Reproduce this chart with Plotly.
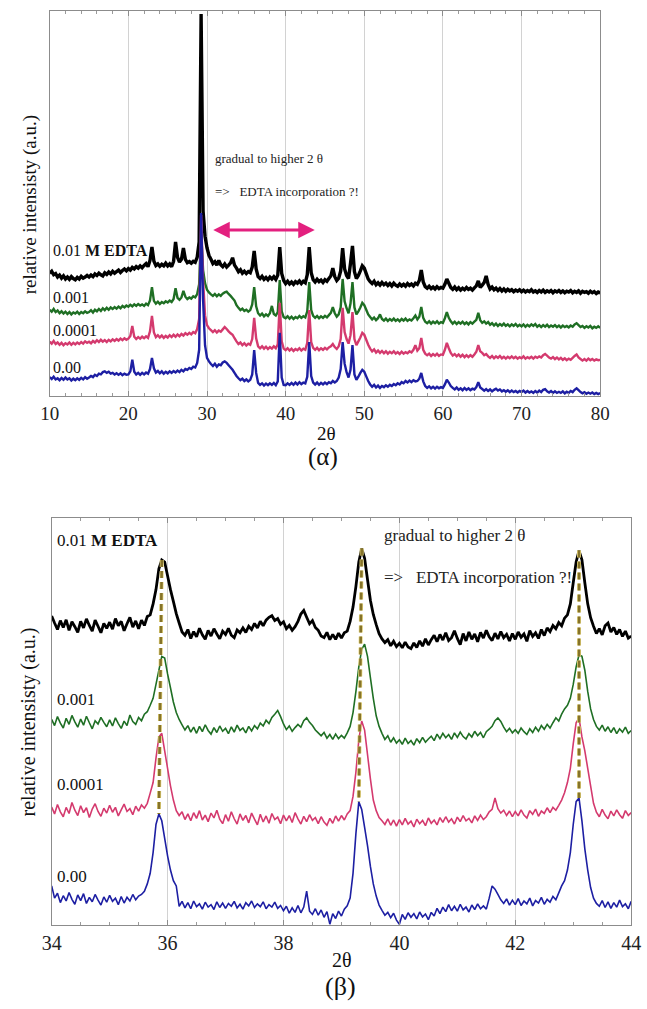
import numpy as np
import plotly.graph_objects as go

# ---------------------------------------------------------------------------
# (α) full XRD scans, 2θ = 10–80°, step 0.25°; stacked relative intensity (a.u.)
# ---------------------------------------------------------------------------
SCAN_A_START, SCAN_A_STEP = 10.0, 0.25

I_A_EDTA_001 = [
    31.9, 32.4, 31.5, 31.8, 30.9, 31.4, 30.6, 31.2, 30.4, 30.9, 30.3, 31.0, 30.5, 30.2, 30.8, 30.4, 31.1, 30.6, 30.9, 31.3,
    30.9, 31.4, 31.0, 31.7, 31.3, 31.9, 31.5, 31.2, 32.0, 31.6, 32.2, 31.7, 32.4, 31.9, 32.3, 32.7, 32.1, 32.6, 33.0, 32.5,
    33.1, 32.7, 33.4, 33.0, 33.6, 33.2, 33.8, 33.3, 33.9, 34.4, 33.6, 35.2, 38.7, 35.0, 33.9, 34.3, 33.7, 34.2, 33.8, 34.5,
    33.8, 34.3, 33.6, 35.0, 40.0, 36.0, 34.8, 35.5, 38.4, 35.5, 34.6, 34.9, 34.5, 35.0, 34.7, 36.0, 40.0, 99.2, 48.0, 41.5,
    38.5, 36.5, 35.5, 34.4, 34.9, 34.0, 35.2, 34.1, 33.6, 34.3, 33.5, 34.0, 34.6, 35.9, 34.0, 33.2, 32.3, 32.8, 31.9, 32.4,
    31.8, 32.3, 32.0, 33.5, 37.7, 33.0, 31.0, 30.5, 31.1, 30.3, 30.8, 30.2, 30.9, 30.4, 31.0, 30.3, 31.4, 38.7, 31.8, 30.0,
    29.2, 29.8, 29.1, 29.6, 29.0, 29.7, 29.3, 29.9, 29.2, 29.8, 29.4, 31.5, 38.7, 32.0, 30.2, 29.6, 30.3, 29.7, 30.1, 29.5,
    30.2, 29.8, 30.5, 31.2, 33.2, 31.0, 30.0, 30.6, 32.5, 38.4, 33.0, 31.3, 30.5, 34.5, 39.0, 32.3, 30.5, 31.3, 32.5, 33.8,
    33.2, 31.8, 30.4, 29.7, 29.2, 29.8, 28.9, 29.4, 28.8, 29.5, 28.9, 29.3, 28.7, 29.2, 28.6, 29.3, 28.8, 28.5, 29.1, 28.6,
    29.0, 28.5, 29.2, 28.7, 29.1, 28.6, 29.3, 29.0, 30.0, 32.7, 29.6, 28.4, 28.0, 28.5, 27.9, 28.3, 27.8, 28.4, 27.9, 28.2,
    28.0, 29.0, 30.4, 29.3, 28.2, 27.7, 28.3, 27.6, 28.1, 27.5, 28.0, 27.6, 28.2, 27.7, 28.0, 27.5, 28.1, 28.6, 29.9, 28.2,
    28.8, 29.5, 31.2, 29.0, 27.8, 28.3, 27.6, 28.0, 27.4, 27.9, 27.3, 27.8, 27.2, 27.7, 27.3, 27.6, 27.1, 27.5, 27.2, 27.6,
    27.1, 27.5, 27.0, 27.4, 27.1, 27.6, 27.0, 27.3, 26.9, 27.4, 27.0, 27.5, 26.9, 27.3, 27.0, 27.4, 26.8, 27.3, 27.0, 27.4,
    26.9, 27.3, 26.8, 27.2, 27.0, 27.4, 26.8, 27.2, 26.9, 27.3, 26.7, 27.2, 26.9, 27.1, 26.7, 27.2, 26.8, 27.1, 26.6, 27.0,
    26.8,
]
I_A_EDTA_0001 = [
    22.4, 21.9, 22.6, 21.8, 22.2, 21.5, 22.0, 21.4, 21.9, 21.3, 21.8, 21.2, 21.7, 21.4, 21.9, 21.3, 21.8, 21.5, 22.0, 21.6,
    21.8, 22.3, 21.7, 22.4, 22.0, 22.6, 22.1, 22.8, 22.3, 22.9, 22.4, 23.0, 22.6, 23.1, 22.7, 23.2, 22.8, 23.4, 23.0, 23.5,
    23.2, 23.7, 23.3, 23.8, 23.4, 23.9, 23.5, 23.8, 23.4, 24.0, 23.6, 24.8, 28.3, 24.7, 24.0, 24.5, 23.9, 24.4, 24.1, 24.6,
    24.3, 24.8, 24.4, 25.2, 28.0, 25.5, 25.0, 25.6, 27.3, 25.8, 25.2, 25.6, 25.3, 25.9, 25.6, 26.5, 29.0, 43.0, 32.7, 29.3,
    27.6, 26.9, 26.4, 26.0, 26.5, 25.9, 26.4, 26.0, 26.6, 26.9, 27.1, 26.5, 26.0, 25.4, 24.8, 23.6, 22.9, 22.3, 22.7, 22.1,
    22.4, 21.9, 22.3, 23.8, 28.3, 23.3, 21.5, 20.9, 21.4, 20.7, 21.2, 20.8, 21.5, 23.4, 21.3, 20.9, 21.8, 30.1, 22.0, 20.5,
    20.2, 20.7, 20.1, 20.6, 20.0, 20.5, 20.2, 20.8, 20.3, 20.7, 20.4, 22.0, 29.6, 22.3, 20.8, 20.3, 20.8, 20.2, 20.7, 20.3,
    20.8, 20.4, 21.0, 21.6, 23.1, 21.5, 20.6, 21.2, 23.0, 30.4, 24.6, 22.8, 21.5, 24.0, 29.6, 23.0, 21.2, 22.0, 23.0, 24.2,
    23.6, 22.4, 21.2, 20.5, 19.9, 20.4, 19.7, 20.2, 21.2, 20.0, 19.6, 20.1, 19.5, 20.0, 19.6, 20.1, 19.5, 19.9, 19.4, 20.0,
    19.6, 20.1, 19.5, 19.9, 19.6, 20.2, 20.9, 19.9, 20.6, 23.1, 20.3, 19.3, 18.9, 19.4, 18.8, 19.3, 18.9, 19.4, 18.8, 19.2,
    19.0, 20.2, 21.8, 20.3, 19.4, 18.8, 19.3, 18.7, 19.2, 18.8, 19.3, 18.7, 19.1, 18.6, 19.2, 18.8, 19.3, 19.8, 21.6, 19.7,
    19.0, 19.4, 18.8, 19.2, 18.5, 18.9, 18.3, 18.8, 18.2, 18.7, 18.3, 18.8, 18.2, 18.6, 18.1, 18.6, 18.2, 18.7, 18.1, 18.5,
    18.1, 18.6, 18.0, 18.5, 18.1, 18.6, 18.2, 18.7, 18.0, 18.4, 17.9, 18.4, 18.0, 18.5, 17.9, 18.3, 18.0, 18.4, 17.9, 18.3,
    17.8, 18.3, 17.9, 18.2, 17.8, 18.3, 18.0, 18.6, 18.9, 18.4, 17.9, 18.2, 17.7, 18.1, 17.8, 18.2, 17.6, 18.0, 17.7, 18.1,
    17.7,
]
I_A_EDTA_00001 = [
    14.1, 13.6, 14.3, 13.5, 13.9, 13.3, 13.8, 13.2, 13.7, 13.4, 13.9, 13.3, 13.8, 13.4, 13.9, 13.5, 14.0, 13.6, 14.2, 13.8,
    14.1, 13.7, 14.3, 13.9, 14.5, 14.0, 14.6, 14.1, 14.5, 14.0, 14.6, 14.2, 14.7, 14.3, 14.8, 14.4, 14.9, 14.5, 15.0, 14.6,
    14.9, 15.6, 18.2, 15.4, 14.8, 15.3, 14.9, 15.4, 15.0, 15.5, 15.1, 16.8, 20.8, 16.5, 15.3, 15.8, 15.2, 15.7, 15.1, 15.6,
    15.2, 15.8, 15.3, 15.9, 15.4, 16.0, 15.5, 16.1, 15.7, 16.3, 15.9, 16.4, 16.0, 16.6, 16.3, 17.4, 20.0, 47.0, 30.1, 21.0,
    18.4, 17.6, 17.1, 16.6, 17.1, 16.5, 17.0, 16.7, 17.3, 17.9, 17.4, 16.8, 16.3, 15.9, 15.0, 14.2, 13.5, 13.9, 13.2, 13.7,
    13.1, 13.6, 13.3, 14.8, 20.3, 15.0, 12.9, 12.4, 12.9, 12.3, 12.8, 12.2, 12.7, 12.3, 12.9, 12.4, 13.4, 24.2, 14.2, 12.3,
    11.9, 12.4, 11.8, 12.3, 11.7, 12.2, 11.9, 12.4, 11.8, 12.3, 12.0, 13.8, 22.3, 14.0, 12.5, 12.0, 12.5, 11.9, 12.4, 12.0,
    12.5, 12.1, 12.6, 12.9, 13.5, 12.7, 12.2, 12.9, 14.8, 22.9, 16.6, 14.8, 13.6, 15.8, 21.8, 14.8, 13.2, 14.2, 15.2, 16.4,
    15.9, 14.6, 13.3, 12.3, 11.6, 12.1, 11.3, 11.8, 11.2, 11.7, 11.1, 11.6, 11.0, 11.5, 11.1, 11.6, 11.0, 11.4, 10.9, 11.5,
    11.0, 11.4, 11.1, 11.6, 11.3, 12.0, 13.2, 11.8, 12.4, 15.1, 12.0, 11.0, 10.6, 11.0, 10.4, 10.9, 10.5, 11.0, 10.4, 10.8,
    10.7, 12.0, 13.8, 12.4, 11.2, 10.5, 10.9, 10.3, 10.8, 10.2, 10.7, 10.1, 10.6, 10.1, 10.6, 10.2, 10.8, 11.5, 13.2, 11.6,
    11.2, 10.6, 10.9, 10.3, 9.9, 10.4, 9.8, 10.3, 9.9, 10.4, 9.8, 10.2, 9.7, 10.2, 9.8, 10.3, 9.8, 10.2, 9.7, 10.1,
    9.8, 10.3, 9.7, 10.1, 9.8, 10.2, 9.7, 10.2, 9.9, 10.3, 10.0, 10.6, 10.9, 10.5, 10.0, 9.7, 10.1, 9.6, 10.0, 9.5,
    9.9, 9.4, 9.8, 9.3, 9.7, 9.4, 9.9, 10.4, 10.8, 10.0, 9.6, 9.2, 9.6, 9.2, 9.7, 9.3, 9.6, 9.2, 9.5, 9.3,
    9.4,
]
I_A_EDTA_000 = [
    4.9, 4.4, 5.0, 4.3, 4.6, 4.1, 4.7, 4.2, 4.8, 4.3, 4.6, 4.0, 4.5, 4.1, 4.6, 4.2, 4.7, 4.3, 4.9, 4.5,
    4.8, 5.2, 4.9, 5.5, 5.2, 5.8, 5.6, 6.2, 6.4, 6.0, 6.3, 5.8, 6.0, 5.6, 5.9, 5.5, 5.9, 5.4, 5.8, 5.5,
    5.6, 6.4, 9.4, 6.3, 5.6, 6.0, 5.5, 6.0, 5.6, 6.1, 5.8, 7.0, 9.9, 7.2, 6.1, 6.5, 5.9, 6.4, 5.8, 6.3,
    5.9, 6.4, 6.0, 6.5, 6.1, 6.6, 6.2, 6.8, 6.4, 7.0, 6.8, 7.3, 7.0, 7.6, 7.4, 8.6, 12.0, 47.5, 25.0, 13.2,
    9.9, 9.0, 8.3, 7.8, 8.4, 7.6, 8.2, 8.0, 8.7, 9.0, 8.6, 8.0, 7.4, 6.8, 6.0, 5.2, 4.6, 4.1, 4.5, 3.9,
    4.3, 3.8, 4.2, 5.6, 11.9, 6.0, 3.4, 2.9, 3.3, 2.7, 3.2, 2.8, 3.3, 2.9, 3.4, 2.8, 3.8, 16.4, 4.8, 2.9,
    2.8, 3.3, 2.9, 3.4, 2.9, 3.5, 3.0, 3.6, 3.1, 3.5, 3.3, 5.0, 14.0, 5.2, 3.5, 3.0, 3.5, 2.9, 3.4, 3.0,
    3.5, 3.1, 3.6, 3.3, 3.9, 3.5, 3.9, 4.8, 7.0, 14.0, 8.4, 6.2, 4.8, 6.8, 13.2, 5.6, 4.2, 5.0, 6.0, 6.8,
    6.3, 5.1, 3.9, 3.0, 2.4, 2.9, 2.2, 2.7, 2.1, 2.6, 2.3, 2.8, 2.4, 2.9, 2.6, 3.1, 2.8, 3.3, 3.0, 3.6,
    3.3, 3.9, 3.5, 4.0, 3.6, 4.1, 3.8, 3.9, 4.5, 6.0, 3.8, 2.6, 2.1, 2.5, 2.0, 2.4, 1.9, 2.4, 2.0, 2.3,
    2.1, 3.0, 4.2, 3.5, 2.6, 2.1, 1.7, 2.2, 1.6, 2.0, 1.5, 2.1, 1.6, 2.0, 1.5, 1.9, 1.7, 2.3, 3.6, 2.2,
    1.8, 1.4, 1.8, 1.3, 1.7, 1.2, 1.6, 1.9, 1.4, 1.7, 1.2, 1.5, 1.1, 1.5, 1.0, 1.4, 1.0, 1.3, 0.9, 1.3,
    1.0, 1.4, 0.9, 1.3, 0.9, 1.2, 0.8, 1.3, 0.9, 1.4, 1.0, 1.6, 1.8, 1.2, 0.9, 1.3, 0.8, 1.2, 0.8, 1.1,
    0.8, 1.2, 0.7, 1.1, 0.8, 1.3, 1.0, 1.6, 2.0, 1.5, 1.0, 0.7, 1.0, 0.6, 0.9, 0.6, 0.9, 0.5, 0.8, 0.5,
    0.8,
]

# ---------------------------------------------------------------------------
# (β) detail scans, 2θ = 34–44°, step 0.05°; stacked relative intensity (a.u.)
# ---------------------------------------------------------------------------
SCAN_B_START, SCAN_B_STEP = 34.0, 0.05

I_B_EDTA_001 = [
    75.9, 74.2, 72.6, 74.8, 73.1, 75.0, 72.4, 74.5, 73.3, 71.9, 74.6, 73.0, 75.2, 73.6, 72.2, 74.9, 73.4, 71.8, 74.1, 72.9,
    74.4, 72.7, 75.3, 73.5, 74.6, 72.3, 74.0, 75.6, 73.2, 74.7, 72.8, 74.9, 73.6, 75.8, 76.2, 78.9, 82.4, 87.5, 89.7, 89.2,
    85.8, 82.4, 79.5, 76.5, 74.2, 72.0, 71.2, 72.6, 70.4, 72.1, 70.8, 72.9, 71.3, 70.2, 72.4, 71.0, 72.8, 71.5, 70.3, 72.2,
    71.4, 72.9, 71.2, 70.6, 72.5, 71.8, 73.0, 71.9, 73.4, 72.6, 74.1, 73.0, 74.6, 73.5, 74.9, 75.6, 76.0, 74.8, 75.3, 73.9,
    74.5, 72.8, 73.6, 72.4, 73.3, 74.6, 76.4, 77.3, 75.6, 74.0, 74.8, 73.1, 72.4, 71.0, 70.6, 71.9, 70.1, 71.4, 70.2, 71.7,
    70.5, 71.8, 72.2, 74.6, 78.1, 83.2, 89.2, 92.5, 90.1, 84.9, 79.8, 76.3, 73.8, 71.6, 70.3, 69.4, 70.1, 68.6, 69.7, 68.4,
    69.2, 68.1, 69.5, 68.3, 67.9, 69.3, 68.2, 69.8, 68.5, 70.3, 68.8, 70.1, 71.2, 69.6, 71.4, 70.0, 71.8, 69.9, 70.6, 72.3,
    70.4, 68.9, 71.6, 69.8, 72.0, 70.2, 71.5, 69.6, 71.9, 70.5, 72.4, 70.8, 69.9, 71.7, 70.3, 72.1, 70.6, 71.4, 69.8, 71.6,
    70.2, 72.0, 70.7, 71.5, 69.7, 72.3, 70.9, 71.8, 70.4, 72.6, 71.1, 73.0, 72.1, 73.6, 72.8, 74.3, 73.5, 75.4, 76.2, 78.9,
    84.1, 89.2, 92.0, 89.7, 84.1, 78.9, 75.5, 73.4, 71.6, 72.8, 71.3, 73.5, 74.2, 72.0, 73.1, 71.4, 72.6, 70.9, 72.2, 70.5,
    71.0,
]
I_B_EDTA_0001 = [
    50.5, 49.0, 51.2, 49.6, 48.4, 50.8, 49.3, 51.5, 49.9, 48.6, 50.6, 49.1, 51.3, 49.7, 48.2, 50.2, 49.4, 51.0, 49.8, 48.7,
    50.4, 48.9, 50.9, 49.5, 48.3, 50.1, 49.0, 51.6, 50.0, 49.3, 51.0, 50.2, 51.8, 52.4, 54.0, 55.7, 59.1, 62.6, 66.0, 65.6,
    61.7, 58.3, 54.8, 52.2, 50.5, 49.2, 47.9, 49.0, 47.4, 48.6, 47.1, 48.8, 47.5, 49.2, 47.8, 46.9, 48.5, 47.3, 48.9, 47.6,
    48.3, 47.0, 48.7, 47.4, 49.1, 47.8, 48.4, 47.2, 48.8, 47.7, 49.0, 48.2, 49.6, 48.9, 50.3, 49.5, 51.0, 51.8, 52.7, 51.2,
    49.4, 48.0, 48.9, 47.6, 48.5, 49.3, 48.6, 50.2, 50.9, 49.8, 49.0, 47.9, 47.2, 46.5, 47.3, 45.9, 46.8, 45.6, 46.9, 45.8,
    46.6, 45.9, 47.2, 48.8, 52.2, 57.4, 63.4, 67.7, 69.0, 66.0, 60.8, 55.7, 51.4, 48.8, 47.1, 45.6, 46.5, 44.9, 46.0, 44.7,
    45.5, 44.4, 45.9, 44.6, 45.3, 44.2, 45.8, 44.8, 46.1, 44.9, 45.7, 46.4, 45.3, 46.9, 45.8, 47.1, 46.0, 46.8, 45.6, 47.2,
    46.1, 47.4, 46.3, 45.7, 47.0, 46.2, 47.6, 46.5, 47.3, 46.0, 47.5, 48.1, 48.8, 50.2, 50.9, 50.0, 48.6, 47.5, 48.3, 47.2,
    48.0, 47.1, 48.4, 47.5, 46.8, 48.2, 47.3, 48.6, 47.6, 49.0, 48.1, 49.3, 48.4, 49.7, 50.9, 50.1, 51.8, 53.1, 54.0, 55.7,
    59.1, 63.4, 66.4, 66.0, 62.6, 57.4, 53.1, 50.5, 48.8, 47.9, 49.1, 47.6, 48.7, 47.3, 48.5, 47.0, 48.2, 47.4, 48.6, 47.1,
    47.8,
]
I_B_EDTA_00001 = [
    29.0, 27.3, 29.6, 27.8, 26.6, 28.9, 27.4, 30.1, 28.2, 26.9, 29.3, 27.6, 28.8, 26.4, 28.5, 29.8, 27.9, 26.7, 28.7, 27.5,
    29.4, 27.7, 28.9, 26.8, 28.3, 29.7, 27.9, 28.6, 27.1, 29.2, 28.0, 29.5, 28.7, 29.9, 32.4, 35.0, 41.0, 46.2, 47.1, 42.8,
    38.5, 34.2, 30.7, 28.1, 26.9, 27.8, 25.9, 27.3, 25.6, 27.6, 26.2, 28.1, 25.8, 27.0, 25.4, 27.5, 26.3, 28.2, 26.0, 24.9,
    27.1, 25.5, 27.8, 26.1, 24.8, 27.3, 25.7, 26.9, 25.1, 27.5, 26.0, 24.6, 27.2, 25.3, 26.8, 25.0, 27.4, 25.9, 26.5, 24.9,
    27.0, 25.6, 26.9, 25.2, 27.6, 26.1, 24.8, 26.7, 25.4, 27.1, 25.7, 26.4, 24.9, 26.6, 25.3, 24.5, 26.2, 25.0, 26.8, 25.5,
    26.9, 25.8, 27.3, 28.1, 31.6, 37.6, 45.4, 50.1, 47.9, 41.9, 35.9, 30.7, 28.1, 26.4, 25.6, 24.7, 26.1, 24.5, 25.8, 24.3,
    25.9, 24.6, 26.2, 24.8, 25.5, 24.1, 26.0, 24.9, 25.7, 24.4, 26.3, 25.0, 25.8, 24.6, 26.4, 25.2, 26.6, 25.3, 26.1, 24.8,
    26.5, 25.4, 26.9, 25.6, 26.2, 25.1, 26.8, 25.7, 27.0, 25.9, 26.6, 27.8, 28.4, 31.2, 28.6, 27.5, 28.2, 26.9, 28.0, 26.6,
    27.9, 26.8, 28.3, 27.0, 26.3, 28.1, 27.2, 28.5, 26.7, 28.0, 27.4, 28.8, 27.6, 28.9, 28.2, 29.4, 30.7, 32.5, 35.0, 38.5,
    44.5, 49.7, 50.9, 46.2, 42.8, 38.5, 34.2, 29.9, 27.7, 26.6, 28.4, 27.0, 26.1, 28.0, 26.8, 28.3, 27.1, 26.2, 28.1, 26.9,
    27.6,
]
I_B_EDTA_000 = [
    9.6, 6.6, 7.8, 5.5, 7.2, 5.9, 8.0, 6.3, 5.1, 7.4, 6.0, 7.7, 5.3, 6.8, 5.7, 7.5, 6.1, 4.9, 6.9, 5.6,
    7.3, 5.8, 6.6, 5.0, 7.0, 5.4, 6.8, 5.9, 7.5, 6.2, 7.1, 7.5, 8.3, 10.1, 12.7, 17.8, 24.7, 27.3, 25.6, 21.3,
    17.0, 13.5, 10.9, 9.6, 4.6, 5.8, 4.2, 5.5, 4.0, 5.9, 4.5, 5.2, 3.9, 5.6, 4.4, 5.0, 3.8, 5.7, 4.3, 5.4,
    4.1, 5.3, 4.6, 5.8, 4.2, 5.1, 3.9, 5.5, 4.7, 5.9, 4.3, 5.2, 4.5, 5.7, 4.0, 5.0, 4.4, 5.6, 4.1, 4.8,
    3.5, 4.6, 2.9, 4.2, 3.1, 4.8, 3.0, 4.4, 8.3, 3.4, 2.6, 4.0, 2.4, 3.7, 1.9, 3.3, 0.2, 2.8, 1.6, 3.4,
    2.2, 3.9, 4.7, 6.6, 12.7, 22.5, 30.3, 28.4, 24.0, 19.5, 14.4, 10.1, 7.1, 4.9, 3.6, 2.4, 3.1, 1.8, 2.9, 1.2,
    0.2, 2.6, 1.4, 3.0, 1.9, 2.8, 1.5, 3.2, 2.0, 2.7, 1.3, 3.1, 2.2, 4.1, 2.8, 4.4, 3.3, 5.0, 3.5, 4.6,
    3.4, 5.1, 3.7, 4.4, 3.2, 4.9, 3.8, 5.2, 4.0, 4.7, 3.9, 6.6, 9.6, 8.8, 7.5, 6.2, 5.3, 6.4, 4.9, 6.1,
    5.0, 6.5, 4.8, 5.9, 5.2, 6.6, 4.7, 6.0, 5.4, 6.8, 5.1, 6.3, 5.6, 7.0, 6.2, 7.9, 9.6, 10.9, 13.5, 17.8,
    24.7, 30.3, 31.2, 25.6, 18.7, 13.5, 9.2, 6.6, 5.3, 4.6, 6.0, 4.3, 5.7, 4.1, 5.5, 4.4, 6.1, 4.5, 5.2, 4.0,
    5.8,
]

SERIES_NAMES = ["0.01 <b>M EDTA</b>", "0.001", "0.0001", "0.00"]
SERIES_COLORS = ["#000000", "#1f6f24", "#d43a6e", "#1d1fa3"]
SCANS_A = [I_A_EDTA_001, I_A_EDTA_0001, I_A_EDTA_00001, I_A_EDTA_000]
SCANS_B = [I_B_EDTA_001, I_B_EDTA_0001, I_B_EDTA_00001, I_B_EDTA_000]

# reflections followed across the series in (β)
REFLECTION_WINDOWS = [(35.5, 36.3), (39.0, 39.8), (42.8, 43.5)]

# ---------------------------------------------------------------------------
W, H = 647, 1009
SERIF = "Liberation Serif, Times New Roman, serif"


def px(x, y):
    """pixel position -> paper coordinates"""
    return x / W, 1 - y / H


fig = go.Figure()

# draw the 0.01 M scan first so the others sit on top of it
for k, (ya, yb) in enumerate(zip(SCANS_A, SCANS_B)):
    xa = SCAN_A_START + SCAN_A_STEP * np.arange(len(ya))
    xb = SCAN_B_START + SCAN_B_STEP * np.arange(len(yb))
    wa = 3.4 if k == 0 else 2.4
    wb = 2.8 if k == 0 else 1.6
    fig.add_trace(go.Scatter(x=xa, y=ya, mode="lines", xaxis="x", yaxis="y",
                             line=dict(color=SERIES_COLORS[k], width=wa, simplify=False),
                             hoverinfo="skip"))
    fig.add_trace(go.Scatter(x=xb, y=yb, mode="lines", xaxis="x2", yaxis="y2",
                             line=dict(color=SERIES_COLORS[k], width=wb, simplify=False),
                             hoverinfo="skip"))

# dashed guides joining the peak maxima of the 0.01 M and 0.00 scans
xb_top = SCAN_B_START + SCAN_B_STEP * np.arange(len(I_B_EDTA_001))
xb_bot = SCAN_B_START + SCAN_B_STEP * np.arange(len(I_B_EDTA_000))
yb_top = np.array(I_B_EDTA_001)
yb_bot = np.array(I_B_EDTA_000)
for lo, hi in REFLECTION_WINDOWS:
    it = int(np.argmax(np.where((xb_top >= lo) & (xb_top <= hi), yb_top, -np.inf)))
    ib = int(np.argmax(np.where((xb_bot >= lo) & (xb_bot <= hi), yb_bot, -np.inf)))
    gx, gy = [xb_top[it], xb_bot[ib]], [yb_top[it], yb_bot[ib]]
    fig.add_trace(go.Scatter(x=gx, y=gy, mode="lines", xaxis="x2", yaxis="y2",
                             line=dict(color="#e6d57a", width=4, dash="7px,4px"),
                             hoverinfo="skip"))
    fig.add_trace(go.Scatter(x=gx, y=gy, mode="lines", xaxis="x2", yaxis="y2",
                             line=dict(color="#85732a", width=2.6, dash="7px,4px"),
                             hoverinfo="skip"))

frame = dict(showline=True, linecolor="#8c8c8c", linewidth=1, mirror="ticks",
             zeroline=False)
tickfont = dict(family=SERIF, size=19, color="#222222")

fig.update_layout(
    width=W, height=H, margin=dict(l=0, r=0, t=0, b=0),
    paper_bgcolor="white", plot_bgcolor="white", showlegend=False,
    xaxis=dict(domain=[41 / W, 609 / W], anchor="y", range=[10, 80],
               tick0=10, dtick=10, ticks="inside", ticklen=5, tickcolor="#8c8c8c",
               minor=dict(dtick=2, ticks="inside", ticklen=3, tickcolor="#9a9a9a"),
               showgrid=True, gridcolor="#d2d2d2", gridwidth=1,
               tickfont=tickfont, **frame),
    yaxis=dict(domain=[1 - 396 / H, 1 - 11 / H], anchor="x", range=[0, 100],
               showticklabels=False, ticks="", showgrid=False, **frame),
    xaxis2=dict(domain=[43 / W, 641 / W], anchor="y2", range=[34, 44],
                tick0=34, dtick=2, ticks="inside", ticklen=5, tickcolor="#8c8c8c",
                minor=dict(dtick=0.5, ticks="inside", ticklen=3, tickcolor="#9a9a9a"),
                showgrid=True, gridcolor="#d2d2d2", gridwidth=1,
                tickfont=dict(family=SERIF, size=20, color="#222222"), **frame),
    yaxis2=dict(domain=[1 - 925 / H, 1 - 518 / H], anchor="x2", range=[0, 100],
                showticklabels=False, ticks="", showgrid=False, **frame),
)

ann = []
# series labels
for name, ly in zip(SERIES_NAMES, [37.7, 25.5, 16.9, 7.5]):
    ann.append(dict(x=10.1, y=ly, xref="x", yref="y", text=name, showarrow=False,
                    xanchor="left", yanchor="middle",
                    font=dict(family=SERIF, size=16, color="#111111")))
for name, ly in zip(SERIES_NAMES, [94.4, 55.3, 34.6, 12.0]):
    ann.append(dict(x=34.05, y=ly, xref="x2", yref="y2", text=name, showarrow=False,
                    xanchor="left", yanchor="middle",
                    font=dict(family=SERIF, size=17, color="#111111")))

# notes
NOTE_1 = "gradual to higher 2 θ"
NOTE_2 = "=>\u00a0\u00a0\u00a0EDTA incorporation ?!"
ann += [
    dict(x=30.8, y=61.6, xref="x", yref="y", text=NOTE_1, showarrow=False,
         xanchor="left", yanchor="middle", font=dict(family=SERIF, size=13, color="#222")),
    dict(x=30.8, y=53.0, xref="x", yref="y", text=NOTE_2, showarrow=False,
         xanchor="left", yanchor="middle", font=dict(family=SERIF, size=13, color="#222")),
    dict(x=39.7, y=95.6, xref="x2", yref="y2", text=NOTE_1, showarrow=False,
         xanchor="left", yanchor="middle", font=dict(family=SERIF, size=17, color="#222")),
    dict(x=39.7, y=85.3, xref="x2", yref="y2", text=NOTE_2, showarrow=False,
         xanchor="left", yanchor="middle", font=dict(family=SERIF, size=17, color="#222")),
    # double-headed shift arrow
    dict(x=43.7, y=43.1, ax=30.6, ay=43.1, xref="x", yref="y", axref="x", ayref="y",
         text="", showarrow=True, arrowhead=2, startarrowhead=2, arrowside="end+start",
         arrowsize=1.1, startarrowsize=1.1, arrowwidth=3, arrowcolor="#e3207f"),
]

# axis titles and panel tags
for (cx, cy), txt, size in [
    ((327, 434), "2θ", 19), ((323, 457), "(α)", 25),
    ((343, 960), "2θ", 20), ((341, 986), "(β)", 26),
]:
    xx, yy = px(cx, cy)
    ann.append(dict(x=xx, y=yy, xref="paper", yref="paper", text=txt, showarrow=False,
                    xanchor="center", yanchor="middle",
                    font=dict(family=SERIF, size=size, color="#111111")))
for (cx, cy), size in [((21, 205), 19), ((19, 722), 20)]:
    xx, yy = px(cx, cy)
    ann.append(dict(x=xx, y=yy, xref="paper", yref="paper",
                    text="relative intensisty (a.u.)", textangle=-90, showarrow=False,
                    xanchor="center", yanchor="middle",
                    font=dict(family=SERIF, size=size, color="#111111")))

fig.update_layout(annotations=ann)
fig.write_html("out.html")
